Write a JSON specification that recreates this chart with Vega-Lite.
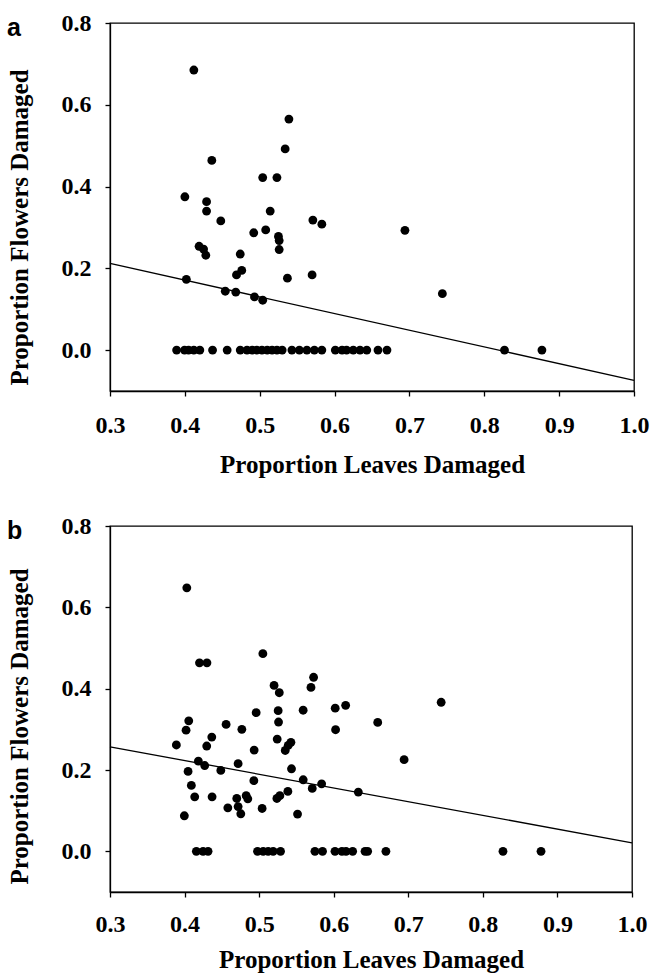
{
  "$schema": "https://vega.github.io/schema/vega-lite/v6.json",
  "background": "white",
  "padding": {"left": 6, "top": 10, "right": 4, "bottom": 0},
  "spacing": 35,
  "config": {
    "view": {"stroke": "black", "strokeWidth": 1.3},
    "axis": {
      "domainColor": "black", "domainWidth": 1.3,
      "tickColor": "black", "tickWidth": 1.3, "tickSize": 5,
      "grid": false, "labelFlush": false, "labelOverlap": false,
      "labelFont": "Liberation Serif", "labelFontWeight": "bold", "labelFontSize": 24, "labelColor": "black",
      "titleFont": "Liberation Serif", "titleFontWeight": "bold", "titleFontSize": 25, "titleColor": "black"
    }
  },
  "datasets": {
    "a": [
      {"leaves": 0.412, "flowers": 0.685},
      {"leaves": 0.539, "flowers": 0.565},
      {"leaves": 0.534, "flowers": 0.492},
      {"leaves": 0.436, "flowers": 0.464},
      {"leaves": 0.504, "flowers": 0.422},
      {"leaves": 0.523, "flowers": 0.422},
      {"leaves": 0.400, "flowers": 0.375},
      {"leaves": 0.429, "flowers": 0.363},
      {"leaves": 0.429, "flowers": 0.340},
      {"leaves": 0.514, "flowers": 0.340},
      {"leaves": 0.448, "flowers": 0.316},
      {"leaves": 0.571, "flowers": 0.318},
      {"leaves": 0.583, "flowers": 0.308},
      {"leaves": 0.492, "flowers": 0.287},
      {"leaves": 0.508, "flowers": 0.294},
      {"leaves": 0.525, "flowers": 0.278},
      {"leaves": 0.526, "flowers": 0.268},
      {"leaves": 0.526, "flowers": 0.246},
      {"leaves": 0.419, "flowers": 0.254},
      {"leaves": 0.425, "flowers": 0.247},
      {"leaves": 0.428, "flowers": 0.232},
      {"leaves": 0.474, "flowers": 0.235},
      {"leaves": 0.476, "flowers": 0.195},
      {"leaves": 0.469, "flowers": 0.184},
      {"leaves": 0.570, "flowers": 0.184},
      {"leaves": 0.537, "flowers": 0.176},
      {"leaves": 0.402, "flowers": 0.173},
      {"leaves": 0.454, "flowers": 0.144},
      {"leaves": 0.468, "flowers": 0.142},
      {"leaves": 0.493, "flowers": 0.130},
      {"leaves": 0.504, "flowers": 0.122},
      {"leaves": 0.694, "flowers": 0.293},
      {"leaves": 0.744, "flowers": 0.138},
      {"leaves": 0.827, "flowers": 0.0},
      {"leaves": 0.877, "flowers": 0.0},
      {"leaves": 0.389, "flowers": 0.0},
      {"leaves": 0.3996, "flowers": 0.0},
      {"leaves": 0.405, "flowers": 0.0},
      {"leaves": 0.412, "flowers": 0.0},
      {"leaves": 0.420, "flowers": 0.0},
      {"leaves": 0.437, "flowers": 0.0},
      {"leaves": 0.4565, "flowers": 0.0},
      {"leaves": 0.474, "flowers": 0.0},
      {"leaves": 0.483, "flowers": 0.0},
      {"leaves": 0.490, "flowers": 0.0},
      {"leaves": 0.496, "flowers": 0.0},
      {"leaves": 0.503, "flowers": 0.0},
      {"leaves": 0.510, "flowers": 0.0},
      {"leaves": 0.5165, "flowers": 0.0},
      {"leaves": 0.523, "flowers": 0.0},
      {"leaves": 0.530, "flowers": 0.0},
      {"leaves": 0.543, "flowers": 0.0},
      {"leaves": 0.553, "flowers": 0.0},
      {"leaves": 0.563, "flowers": 0.0},
      {"leaves": 0.573, "flowers": 0.0},
      {"leaves": 0.583, "flowers": 0.0},
      {"leaves": 0.601, "flowers": 0.0},
      {"leaves": 0.610, "flowers": 0.0},
      {"leaves": 0.616, "flowers": 0.0},
      {"leaves": 0.625, "flowers": 0.0},
      {"leaves": 0.634, "flowers": 0.0},
      {"leaves": 0.643, "flowers": 0.0},
      {"leaves": 0.658, "flowers": 0.0},
      {"leaves": 0.670, "flowers": 0.0}
    ],
    "b": [
      {"leaves": 0.403, "flowers": 0.648},
      {"leaves": 0.420, "flowers": 0.4635},
      {"leaves": 0.430, "flowers": 0.4635},
      {"leaves": 0.505, "flowers": 0.486},
      {"leaves": 0.520, "flowers": 0.408},
      {"leaves": 0.527, "flowers": 0.390},
      {"leaves": 0.573, "flowers": 0.428},
      {"leaves": 0.5695, "flowers": 0.403},
      {"leaves": 0.616, "flowers": 0.359},
      {"leaves": 0.602, "flowers": 0.352},
      {"leaves": 0.559, "flowers": 0.347},
      {"leaves": 0.5255, "flowers": 0.346},
      {"leaves": 0.496, "flowers": 0.341},
      {"leaves": 0.4056, "flowers": 0.321},
      {"leaves": 0.526, "flowers": 0.318},
      {"leaves": 0.659, "flowers": 0.317},
      {"leaves": 0.4557, "flowers": 0.312},
      {"leaves": 0.402, "flowers": 0.298},
      {"leaves": 0.4768, "flowers": 0.300},
      {"leaves": 0.6025, "flowers": 0.299},
      {"leaves": 0.4365, "flowers": 0.281},
      {"leaves": 0.5242, "flowers": 0.276},
      {"leaves": 0.5426, "flowers": 0.268},
      {"leaves": 0.539, "flowers": 0.2606},
      {"leaves": 0.535, "flowers": 0.248},
      {"leaves": 0.389, "flowers": 0.2615},
      {"leaves": 0.4297, "flowers": 0.259},
      {"leaves": 0.4933, "flowers": 0.249},
      {"leaves": 0.4185, "flowers": 0.222},
      {"leaves": 0.427, "flowers": 0.211},
      {"leaves": 0.4718, "flowers": 0.2155},
      {"leaves": 0.4047, "flowers": 0.1966},
      {"leaves": 0.4486, "flowers": 0.199},
      {"leaves": 0.5434, "flowers": 0.203},
      {"leaves": 0.4929, "flowers": 0.1737},
      {"leaves": 0.5591, "flowers": 0.176},
      {"leaves": 0.5838, "flowers": 0.166},
      {"leaves": 0.4091, "flowers": 0.162},
      {"leaves": 0.5712, "flowers": 0.1548},
      {"leaves": 0.633, "flowers": 0.1457},
      {"leaves": 0.5385, "flowers": 0.1474},
      {"leaves": 0.4136, "flowers": 0.134},
      {"leaves": 0.4369, "flowers": 0.134},
      {"leaves": 0.4826, "flowers": 0.1367},
      {"leaves": 0.4848, "flowers": 0.129},
      {"leaves": 0.470, "flowers": 0.130},
      {"leaves": 0.5278, "flowers": 0.1367},
      {"leaves": 0.5238, "flowers": 0.130},
      {"leaves": 0.458, "flowers": 0.107},
      {"leaves": 0.4718, "flowers": 0.110},
      {"leaves": 0.504, "flowers": 0.1054},
      {"leaves": 0.4754, "flowers": 0.0924},
      {"leaves": 0.5515, "flowers": 0.0916},
      {"leaves": 0.3997, "flowers": 0.0874},
      {"leaves": 0.7441, "flowers": 0.3665},
      {"leaves": 0.6944, "flowers": 0.2254},
      {"leaves": 0.4158, "flowers": 0.0},
      {"leaves": 0.4248, "flowers": 0.0},
      {"leaves": 0.4315, "flowers": 0.0},
      {"leaves": 0.4978, "flowers": 0.0},
      {"leaves": 0.5054, "flowers": 0.0},
      {"leaves": 0.5121, "flowers": 0.0},
      {"leaves": 0.5188, "flowers": 0.0},
      {"leaves": 0.5287, "flowers": 0.0},
      {"leaves": 0.5748, "flowers": 0.0},
      {"leaves": 0.585, "flowers": 0.0},
      {"leaves": 0.6017, "flowers": 0.0},
      {"leaves": 0.611, "flowers": 0.0},
      {"leaves": 0.6165, "flowers": 0.0},
      {"leaves": 0.6254, "flowers": 0.0},
      {"leaves": 0.642, "flowers": 0.0},
      {"leaves": 0.6455, "flowers": 0.0},
      {"leaves": 0.670, "flowers": 0.0},
      {"leaves": 0.827, "flowers": 0.0},
      {"leaves": 0.878, "flowers": 0.0}
    ],
    "fit_a": [
      {"leaves": 0.3, "flowers": 0.212},
      {"leaves": 1.0, "flowers": -0.074}
    ],
    "fit_b": [
      {"leaves": 0.3, "flowers": 0.257},
      {"leaves": 1.0, "flowers": 0.021}
    ]
  },
  "vconcat": [
    {
      "width": 524,
      "height": 368,
      "title": {"text": "a", "anchor": "start", "frame": "bounds", "offset": -30, "font": "Liberation Sans", "fontSize": 25, "fontWeight": "bold", "color": "black"},
      "layer": [
        {
          "data": {"name": "a"},
          "mark": {"type": "point", "shape": "circle", "filled": true, "size": 78, "color": "black", "opacity": 1},
          "encoding": {
            "x": {"field": "leaves", "type": "quantitative", "scale": {"domain": [0.3, 1.0], "nice": false, "zero": false},
                  "axis": {"title": "Proportion Leaves Damaged", "values": [0.3, 0.4, 0.5, 0.6, 0.7, 0.8, 0.9, 1.0], "format": ".1f", "labelPadding": 17, "titlePadding": 15}},
            "y": {"field": "flowers", "type": "quantitative", "scale": {"domain": [-0.1, 0.8], "nice": false, "zero": false},
                  "axis": {"title": "Proportion Flowers Damaged", "values": [0, 0.2, 0.4, 0.6, 0.8], "format": ".1f", "labelPadding": 14, "titlePadding": 29, "titleY": 204}}
          }
        },
        {
          "data": {"name": "fit_a"},
          "mark": {"type": "line", "color": "black", "strokeWidth": 1.3},
          "encoding": {
            "x": {"field": "leaves", "type": "quantitative"},
            "y": {"field": "flowers", "type": "quantitative"}
          }
        }
      ]
    },
    {
      "width": 522,
      "height": 366,
      "title": {"text": "b", "anchor": "start", "frame": "bounds", "offset": -30, "font": "Liberation Sans", "fontSize": 25, "fontWeight": "bold", "color": "black"},
      "layer": [
        {
          "data": {"name": "b"},
          "mark": {"type": "point", "shape": "circle", "filled": true, "size": 78, "color": "black", "opacity": 1},
          "encoding": {
            "x": {"field": "leaves", "type": "quantitative", "scale": {"domain": [0.3, 1.0], "nice": false, "zero": false},
                  "axis": {"title": "Proportion Leaves Damaged", "values": [0.3, 0.4, 0.5, 0.6, 0.7, 0.8, 0.9, 1.0], "format": ".1f", "labelPadding": 15, "titlePadding": 11}},
            "y": {"field": "flowers", "type": "quantitative", "scale": {"domain": [-0.1, 0.8], "nice": false, "zero": false},
                  "axis": {"title": "Proportion Flowers Damaged", "values": [0, 0.2, 0.4, 0.6, 0.8], "format": ".1f", "labelPadding": 14, "titlePadding": 29, "titleY": 200}}
          }
        },
        {
          "data": {"name": "fit_b"},
          "mark": {"type": "line", "color": "black", "strokeWidth": 1.3},
          "encoding": {
            "x": {"field": "leaves", "type": "quantitative"},
            "y": {"field": "flowers", "type": "quantitative"}
          }
        }
      ]
    }
  ]
}
